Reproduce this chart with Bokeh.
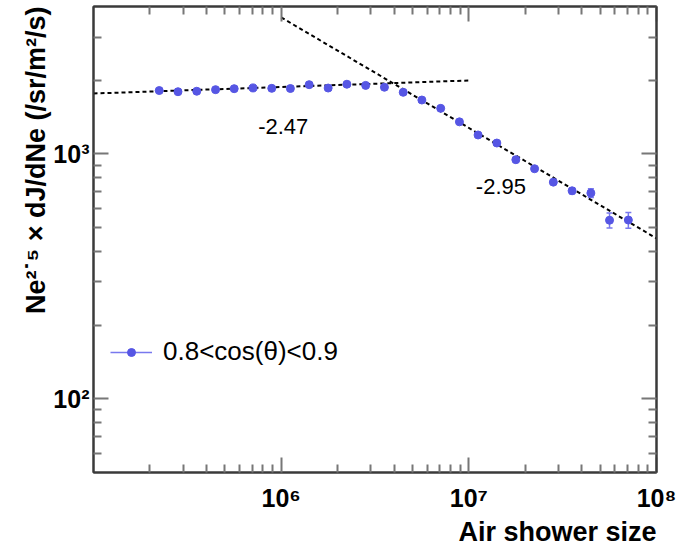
from bokeh.plotting import figure
from bokeh.models import (FixedTicker, CustomJSTickFormatter, LogAxis, Label, Legend,
                          LegendItem, Whisker, TeeHead, ColumnDataSource, Range1d, Title)
from bokeh.embed import file_html
from bokeh.resources import INLINE

# ---- data ----
shower_size = [2.24e5, 2.82e5, 3.55e5, 4.47e5, 5.62e5, 7.08e5, 8.91e5,
               1.12e6, 1.41e6, 1.78e6, 2.24e6, 2.82e6, 3.55e6, 4.47e6, 5.62e6, 7.08e6, 8.91e6,
               1.12e7, 1.41e7, 1.78e7, 2.24e7, 2.82e7, 3.55e7, 4.47e7, 5.62e7, 7.08e7]
flux = [1815, 1795, 1803, 1830, 1847, 1860, 1853, 1850, 1918, 1858, 1926, 1905, 1872,
        1785, 1660, 1535, 1352, 1195, 1108, 947, 870, 767, 707, 692, 536, 537]
flux_err = [9, 9, 9, 9, 10, 10, 10, 11, 12, 12, 13, 13, 14, 14, 14, 14, 13, 13, 13, 13,
            14, 16, 20, 28, 38, 40]

fit1_x = [1e5, 1e7]
fit1_y = [1765, 1995]
fit2_x = [1e6, 1e8]
fit2_y = [3610, 452]

x_major = [1e6, 1e7, 1e8]
x_minor = [2e5, 3e5, 4e5, 5e5, 6e5, 7e5, 8e5, 9e5,
           2e6, 3e6, 4e6, 5e6, 6e6, 7e6, 8e6, 9e6,
           2e7, 3e7, 4e7, 5e7, 6e7, 7e7, 8e7, 9e7]
y_major = [100, 1000]
y_minor = [60, 70, 80, 90, 200, 300, 400, 500, 600, 700, 800, 900, 2000, 3000]

legend_label = "0.8<cos(θ)<0.9"
slope_labels = ["-2.47", "-2.95"]
x_title = "Air shower size"
y_title = "Ne\u00b2\u02d9\u2075 \u00d7 dJ/dNe (/sr/m\u00b2/s)"

FONT = "Liberation Sans"
DOT = "#5656e4"
ERR = "#7878ee"

p = figure(width=681, height=546, x_axis_type="log", y_axis_type="log",
           x_range=Range1d(1e5, 1e8), y_range=Range1d(50, 4000),
           output_backend="svg", toolbar_location=None,
           min_border_left=93, min_border_right=25, min_border_top=6, min_border_bottom=70)
p.grid.visible = False
p.outline_line_color = "#3a3a3a"
p.outline_line_width = 2

fmt_code = """
const sup = {"0":"\u2070","1":"\u00b9","2":"\u00b2","3":"\u00b3","4":"\u2074",
             "5":"\u2075","6":"\u2076","7":"\u2077","8":"\u2078","9":"\u2079","-":"\u207b"};
const e = Math.round(Math.log10(tick));
return "10" + String(e).split("").map(c => sup[c]).join("");
"""


def style_axis(ax, major, minor, show_labels, standoff):
    ax.ticker = FixedTicker(ticks=major, minor_ticks=minor)
    ax.formatter = CustomJSTickFormatter(code=fmt_code)
    ax.axis_line_color = "#3a3a3a"
    ax.axis_line_width = 2
    ax.major_tick_in = 15
    ax.major_tick_out = 0
    ax.minor_tick_in = 8
    ax.minor_tick_out = 0
    ax.major_tick_line_color = "#777777"
    ax.minor_tick_line_color = "#777777"
    ax.major_tick_line_width = 2
    ax.minor_tick_line_width = 2
    ax.axis_label = None
    if show_labels:
        ax.major_label_text_font = FONT
        ax.major_label_text_font_style = "bold"
        ax.major_label_text_font_size = "25px"
        ax.major_label_text_color = "black"
        ax.major_label_standoff = standoff
    else:
        ax.major_label_text_font_size = "0px"
        ax.major_label_text_alpha = 0
        ax.major_label_standoff = 0


style_axis(p.xaxis[0], x_major, x_minor, True, 11)
style_axis(p.yaxis[0], y_major, y_minor, True, 4)
top_axis = LogAxis()
style_axis(top_axis, x_major, x_minor, False, 0)
p.add_layout(top_axis, "above")
right_axis = LogAxis()
style_axis(right_axis, y_major, y_minor, False, 0)
p.add_layout(right_axis, "right")

# axis titles as side-panel titles, aligned to the far end like the reference
p.add_layout(Title(text=x_title, align="right", text_font=FONT, text_font_style="bold",
                   text_font_size="27px", text_color="black", standoff=0, offset=0),
             "below")
p.add_layout(Title(text=y_title, align="right", text_font=FONT, text_font_style="bold",
                   text_font_size="27px", text_color="black", standoff=0, offset=0),
             "left")

# fit lines
p.line(fit1_x, fit1_y, line_color="black", line_width=2, line_dash="4 3")
p.line(fit2_x, fit2_y, line_color="black", line_width=2, line_dash="4 3")

# data with error bars
src = ColumnDataSource(dict(
    x=shower_size, y=flux,
    lower=[f - e for f, e in zip(flux, flux_err)],
    upper=[f + e for f, e in zip(flux, flux_err)]))
p.add_layout(Whisker(source=src, base="x", lower="lower", upper="upper",
                     line_color=ERR, line_width=1.5,
                     upper_head=TeeHead(size=6, line_color=ERR, line_width=1.5),
                     lower_head=TeeHead(size=6, line_color=ERR, line_width=1.5)))
p.scatter("x", "y", source=src, size=8, marker="circle",
          fill_color=DOT, line_color=DOT)

# slope annotations
p.add_layout(Label(x=7.54e5, y=1294, text=slope_labels[0], text_font=FONT,
                   text_font_size="22px", text_color="black", text_baseline="alphabetic"))
p.add_layout(Label(x=1.09e7, y=733, text=slope_labels[1], text_font=FONT,
                   text_font_size="22px", text_color="black", text_baseline="alphabetic"))

# legend: single-point renderers draw nothing in the plot but give the legend glyph
leg_line = p.line(x=shower_size[:1], y=flux[:1], line_color=ERR, line_width=1.5)
leg_dot = p.scatter(x=shower_size[:1], y=flux[:1], size=6, marker="circle",
                    fill_color=DOT, line_color=DOT)
legend = Legend(items=[LegendItem(label=legend_label, renderers=[leg_line, leg_dot])],
                location=(17, 105), padding=0, margin=0, spacing=0,
                border_line_alpha=0, background_fill_alpha=0,
                glyph_width=42, glyph_height=20, label_standoff=11,
                label_text_font=FONT, label_text_font_size="26px",
                label_text_color="black")
p.add_layout(legend)

open("out.html", "w").write(file_html(p, INLINE))
